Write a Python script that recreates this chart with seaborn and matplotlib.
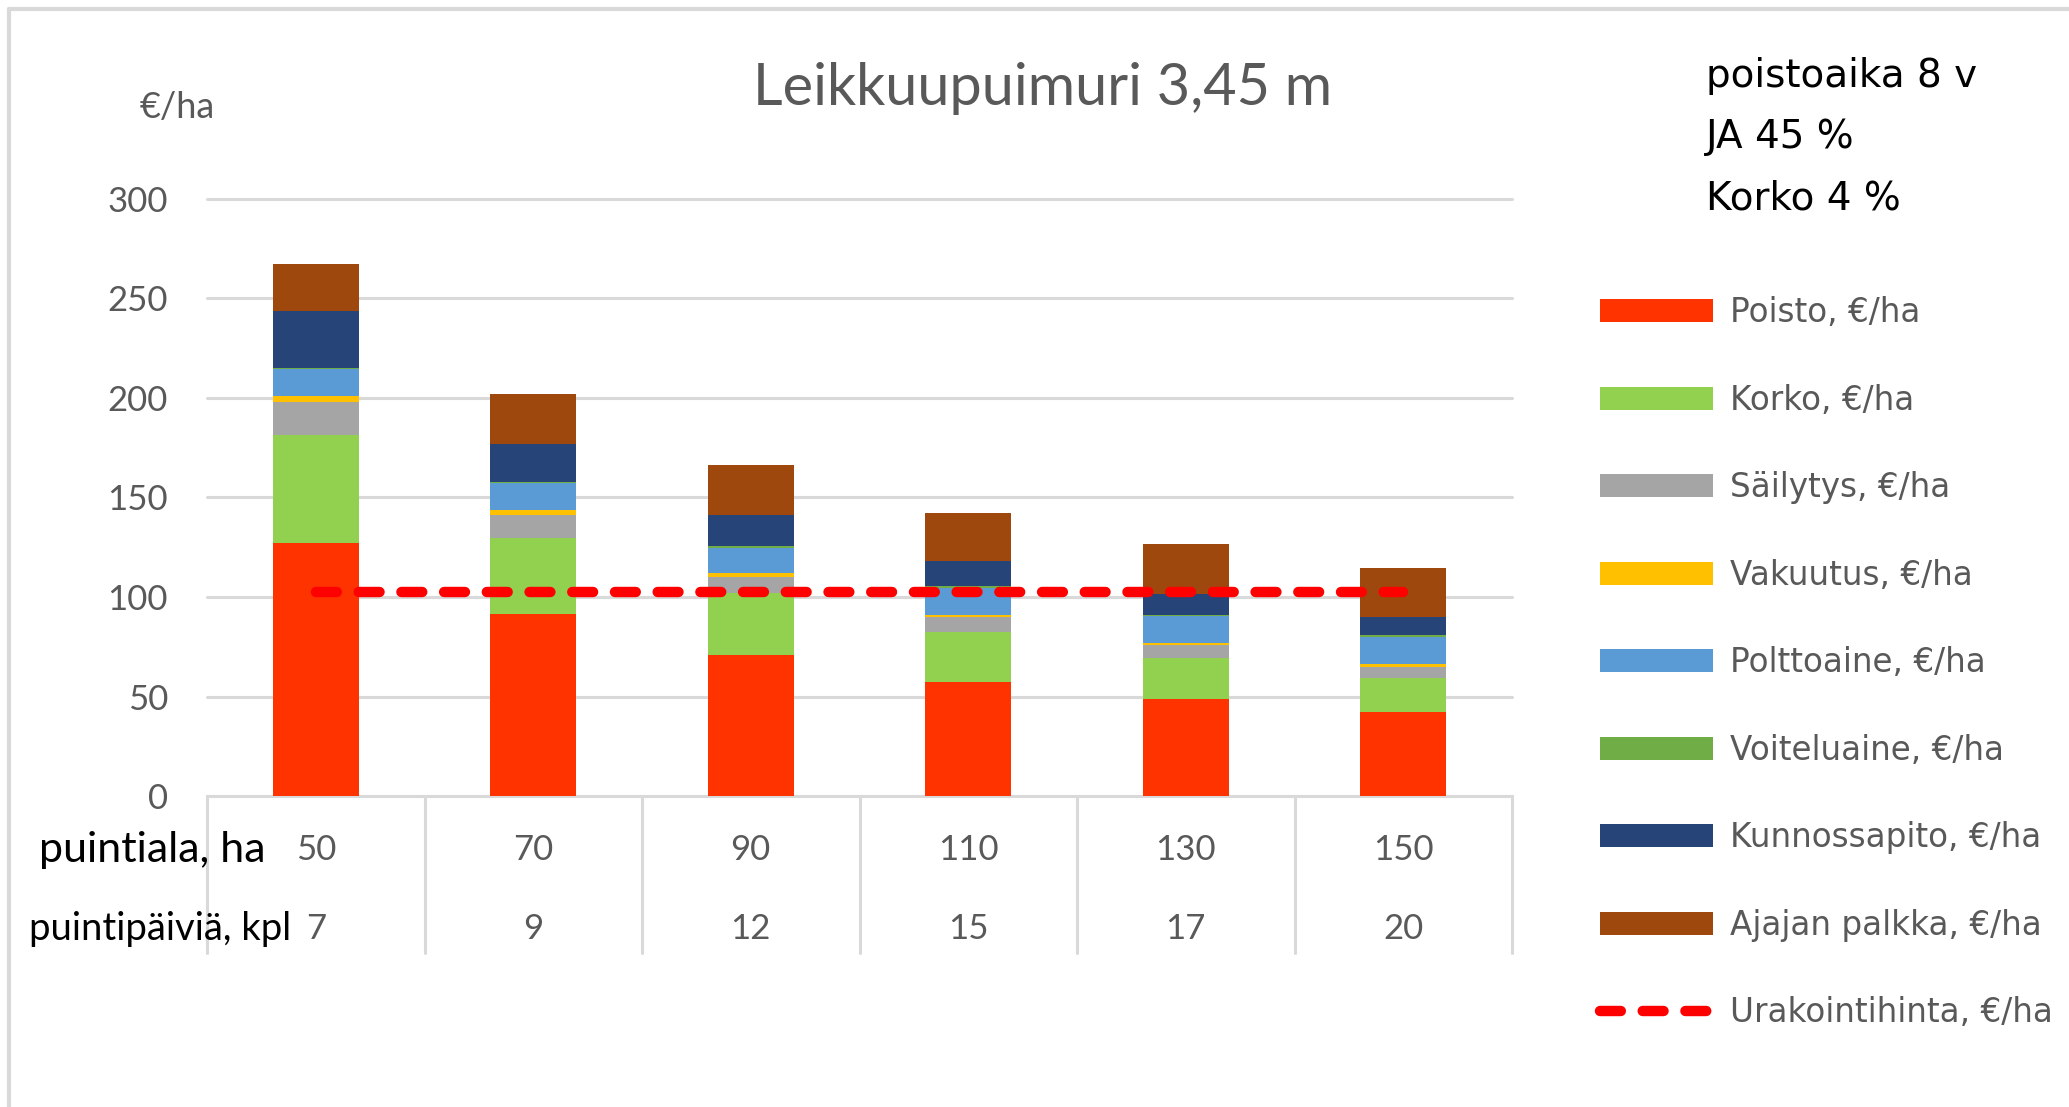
import numpy as np
import pandas as pd
import matplotlib
matplotlib.use("Agg")
import matplotlib.pyplot as plt
from matplotlib.patches import Patch
from matplotlib.lines import Line2D
import seaborn as sns

# ---------------- data ----------------
puintiala = ["50", "70", "90", "110", "130", "150"]
puintipaivia = ["7", "9", "12", "15", "17", "20"]

poisto       = [127.3, 91.5, 70.7, 57.5, 48.7, 42.1]
korko        = [54.3, 37.9, 31.3, 24.8, 20.7, 17.4]
sailytys     = [16.2, 11.9, 7.8, 7.7, 6.4, 5.4]
vakuutus     = [3.3, 2.2, 2.4, 1.2, 1.3, 1.2]
polttoaine   = [13.4, 13.6, 12.6, 13.4, 13.3, 13.9]
voiteluaine  = [0.7, 0.7, 1.0, 0.7, 0.7, 1.1]
kunnossapito = [28.4, 19.2, 15.3, 12.9, 10.4, 8.6]
ajajan_palkka = [23.9, 25.0, 25.0, 24.1, 25.3, 24.9]
urakointihinta = [102.5, 102.5, 102.5, 102.5, 102.5, 102.5]

series_names = ["Poisto, €/ha", "Korko, €/ha", "Säilytys, €/ha", "Vakuutus, €/ha",
                "Polttoaine, €/ha", "Voiteluaine, €/ha", "Kunnossapito, €/ha",
                "Ajajan palkka, €/ha"]
line_name = "Urakointihinta, €/ha"
title = "Leikkuupuimuri 3,45 m"
y_unit = "€/ha"
row1_label = "puintiala, ha"
row2_label = "puintipäiviä, kpl"
note_lines = ["poistoaika 8 v", "JA 45 %", "Korko 4 %"]
y_ticks = [0, 50, 100, 150, 200, 250, 300]

# ---------------- style ----------------
colors = ["#FF3300", "#92D050", "#A5A5A5", "#FFC000", "#5B9BD5", "#70AD47",
          "#264478", "#9E480E"]
grid_col = "#D9D9D9"
txt_col = "#595959"

sns.set_theme(style="white")
plt.rcParams["font.family"] = ["Lato", "DejaVu Sans"]

W, H = 2069, 1107
fig = plt.figure(figsize=(W / 100, H / 100), dpi=100)
ax_l, ax_r, ax_t, ax_b = 207, 1512, 199, 796
ax = fig.add_axes([ax_l / W, 1 - ax_b / H, (ax_r - ax_l) / W, (ax_b - ax_t) / H])

layers = [poisto, korko, sailytys, vakuutus, polttoaine, voiteluaine,
          kunnossapito, ajajan_palkka]
bottom = np.zeros(len(puintiala))
for vals, col in zip(layers, colors):
    df = pd.DataFrame({"ala": puintiala, "v": vals})
    sns.barplot(data=df, x="ala", y="v", bottom=bottom, color=col, saturation=1,
                width=0.395, linewidth=0, ax=ax, zorder=3)
    bottom = bottom + np.array(vals)

xpos = np.arange(len(puintiala))
line_kw = dict(color="#FF0000", linewidth=7.5, dashes=(2.0, 2.1),
               dash_capstyle="round", solid_capstyle="round")
sns.lineplot(x=xpos, y=urakointihinta, ax=ax, zorder=5, **line_kw)

ax.set_xlim(-0.5, len(puintiala) - 0.5)
ax.set_ylim(0, 300)
ax.set_yticks(y_ticks)
ax.set_yticklabels([str(t) for t in y_ticks], fontsize=25, color=txt_col)
ax.tick_params(axis="y", length=0, pad=28)
ax.set_xticks([])
ax.set_xlabel("")
ax.set_ylabel("")
for t in y_ticks[1:]:
    ax.axhline(t, color=grid_col, lw=2.2, zorder=1, clip_on=False)
for s in ["left", "right", "top"]:
    ax.spines[s].set_visible(False)
ax.spines["bottom"].set_color(grid_col)
ax.spines["bottom"].set_linewidth(2.2)

# category table below the axis
trans = ax.get_xaxis_transform()
sep_bottom = -(953 - ax_b) / (ax_b - ax_t)
for xb in np.arange(len(puintiala) + 1) - 0.5:
    ax.plot([xb, xb], [0, sep_bottom], transform=trans, color=grid_col, lw=2.2,
            clip_on=False, zorder=1)
y_row1 = -(850 - ax_b) / (ax_b - ax_t)
y_row2 = -(929 - ax_b) / (ax_b - ax_t)
for i, (a, p) in enumerate(zip(puintiala, puintipaivia)):
    ax.text(i, y_row1, a, transform=trans, ha="center", va="center",
            fontsize=25, color=txt_col)
    ax.text(i, y_row2, p, transform=trans, ha="center", va="center",
            fontsize=25, color=txt_col)
fig.text(39 / W, 1 - 850 / H, row1_label, ha="left", va="center",
         fontsize=31, color="black")
fig.text(29 / W, 1 - 929 / H, row2_label, ha="left", va="center",
         fontsize=27.5, color="black")

# titles & texts
fig.text(1043 / W, 1 - 105 / H, title, ha="center", va="baseline",
         fontsize=41.5, color=txt_col)
fig.text(140 / W, 1 - 118 / H, y_unit, ha="left", va="baseline",
         fontsize=26, color=txt_col)
for k, line in enumerate(note_lines):
    fig.text(1706 / W, 1 - (87 + 61 * k) / H, line, ha="left", va="baseline",
             fontsize=28, color="black", family=["DejaVu Sans"])

# legend
handles = [Patch(facecolor=c, edgecolor="none", label=n)
           for c, n in zip(colors, series_names)]
handles.append(Line2D([0], [0], label=line_name, **line_kw))
leg = fig.legend(handles=handles, loc="upper left",
                 bbox_to_anchor=(1600 / W, 1 - 296 / H),
                 bbox_transform=fig.transFigure, frameon=False,
                 prop={"family": "DejaVu Sans", "size": 23.5},
                 labelcolor=txt_col, handlelength=3.47, handleheight=0.7,
                 labelspacing=1.67, handletextpad=0.5, borderpad=0,
                 borderaxespad=0)

# outer frame (left and top edges visible)
fig.add_artist(Line2D([9 / W, 9 / W], [0, 1 - 9 / H], transform=fig.transFigure,
                      color=grid_col, lw=3))
fig.add_artist(Line2D([9 / W, 1], [1 - 9 / H, 1 - 9 / H], transform=fig.transFigure,
                      color=grid_col, lw=3))

fig.savefig("out.png", dpi=100, facecolor="white")
